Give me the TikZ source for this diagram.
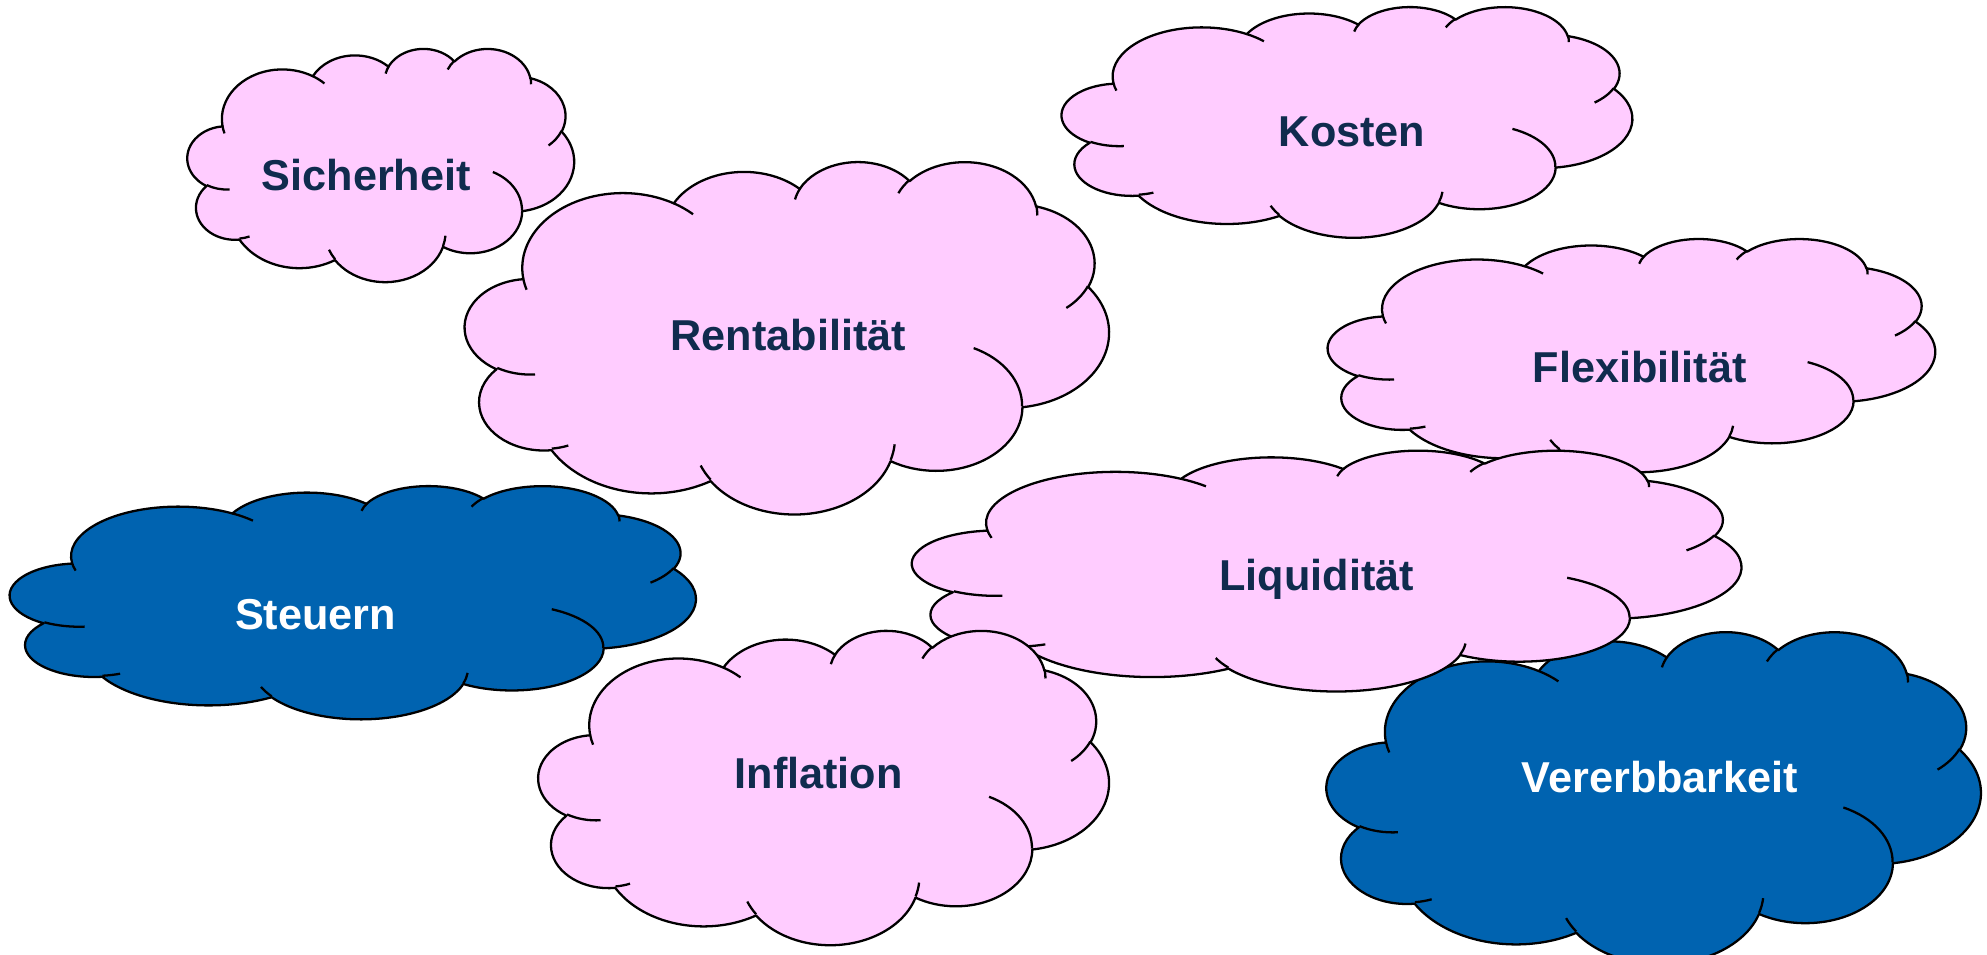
\documentclass[tikz,border=0pt]{standalone}
\usepackage{fontspec}
\setmainfont{Liberation Sans}
\usepackage{tikz}
\usetikzlibrary{calc}
\definecolor{cloudpink}{RGB}{255,204,255}
\definecolor{cloudblue}{RGB}{0,99,176}
\definecolor{textnavy}{RGB}{16,43,78}

% one puff of the cloud outline (radii, start angle, sweep)
\newcommand{\carc}[4]{arc[x radius=#1, y radius=#2, start angle={pang(#3,#1,#2)}, delta angle={mod(pang(#3+#4,#1,#2)-pang(#3,#1,#2)+720,360)}]}
% cloud in a box: left, top, width, height, fill colour
\newcommand{\drawcloud}[5]{%
	\begin{scope}[shift={(#1,#2)}, x=#3*0.12672mm/432, y=-#4*0.12672mm/432]
		\path[cloudline,fill=#5] (39,143.7)
			\carc{67.53}{91.90}{-190.4875}{123.7805}
			\carc{53.33}{72.67}{-144.1024}{89.9452}
			\carc{43.65}{59.45}{-145.8079}{99.7230}
			\carc{48.57}{65.95}{-130.9861}{117.2417}
			\carc{53.33}{72.73}{-78.7089}{109.0269}
			\carc{67.75}{92.20}{-46.2673}{130.2690}
			\carc{57.85}{78.67}{0.6250}{114.0333}
			\carc{67.52}{92.15}{22.4516}{115.1726}
			\carc{77.20}{105.43}{66.2426}{75.7110}
			\carc{43.60}{59.18}{-274.9421}{146.7356}
			\carc{43.45}{59.45}{-246.8285}{152.5189}
			-- cycle;
		\path[cloudline]
			(46.93,261.77) \carc{43.45}{59.45}{86.7420}{26.4295}
			(69.28,348.99) \carc{43.60}{59.18}{73.6105}{11.4475}
			(164.78,390.90) \carc{67.52}{92.15}{137.6242}{14.0811}
			(288.27,347.51) \carc{67.52}{92.15}{6.4533}{15.9984}
			(341.29,229.54) \carc{57.85}{78.67}{-70.2924}{70.9174}
			(417.98,153.54) \carc{53.33}{72.73}{30.3180}{27.7515}
			(383.24,54.26) \carc{48.57}{65.95}{-13.7443}{14.8589}
			(290.78,39.52) \carc{48.57}{65.95}{-149.1815}{18.1954}
			(221.41,47.20) \carc{43.65}{59.45}{-163.4943}{17.6864}
			(140.00,51.92) \carc{67.53}{91.90}{-66.7070}{12.3194}
			(41.27,157.89) \carc{67.53}{91.90}{157.6544}{11.8582};
	\end{scope}
}

\begin{document}
\begin{tikzpicture}[x=0.12672mm, y=-0.12672mm,
		declare function={pang(\a,\rx,\ry)=atan2(\rx*sin(\a),\ry*cos(\a));},
		cloudline/.style={draw=black, line width=0.65pt, line join=round},
		pinklabel/.style={text=textnavy, font=\fontsize{12.3}{15}\selectfont\bfseries},
		bluelabel/.style={text=white, font=\fontsize{12.3}{15}\selectfont\bfseries}
	]
	\useasboundingbox (0,0) rectangle (1568,753);
	% clouds, back to front
	\drawcloud{148}{38}{305}{184}{cloudpink}
	\drawcloud{838}{5}{450}{182}{cloudpink}
	\drawcloud{367}{127}{508}{278}{cloudpink}
	\drawcloud{1048}{188}{479}{184}{cloudpink}
	\drawcloud{8}{383}{541}{184}{cloudblue}
	\drawcloud{1047}{498}{516}{262}{cloudblue}
	\drawcloud{720}{355}{654}{190}{cloudpink}
	\drawcloud{425}{497}{450}{248}{cloudpink}
	% labels
	\node[pinklabel] (sicherheit) at (289,138) {Sicherheit};
	\node[pinklabel] (kosten) at (1067,104) {Kosten};
	\node[pinklabel] (rentabilitaet) at (622,264) {Rentabilität};
	\node[pinklabel] (flexibilitaet) at (1294,290) {Flexibilität};
	\node[bluelabel] (steuern) at (249,485) {Steuern};
	\node[pinklabel] (liquiditaet) at (1039,457) {Liquidität};
	\node[pinklabel] (inflation) at (646,610) {Inflation};
	\node[bluelabel] (vererbbarkeit) at (1310,613) {Vererbbarkeit};
\end{tikzpicture}
\end{document}
